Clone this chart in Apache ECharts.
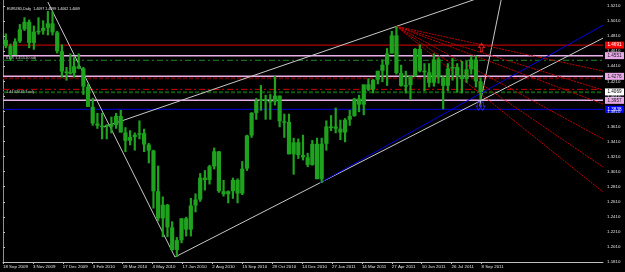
<!DOCTYPE html>
<html>
<head>
<meta charset="utf-8">
<script src="https://cdn.jsdelivr.net/npm/echarts@6/dist/echarts.min.js"></script>
<style>
html, body { margin: 0; padding: 0; background: #000; }
#chart { width: 625px; height: 272px; }
</style>
</head>
<body>
<div id="chart"></div>
<script>
// EURUSD daily, drawn here as weekly candles (week starting on Monday)
var firstMonday = '2009-09-21';
var weekOpen  = [1.4760,1.4680,1.4560,1.4740,1.4900,1.5000,1.4720,1.4870,1.4880,1.4920,1.4980,1.4860,1.4610,1.4340,1.4330,
                 1.4320,1.4410,1.4380,1.4140,1.3870,1.3650,1.3620,1.3620,1.3630,1.3630,1.3750,1.3530,1.3420,1.3470,1.3500,
                 1.3520,1.3370,1.3290,1.2750,1.2390,1.2570,1.2270,1.1970,1.2100,1.2390,1.2240,1.2560,1.2640,1.2930,1.2900,
                 1.3080,1.3280,1.2750,1.2710,1.2750,1.2900,1.2720,1.3050,1.3490,1.3790,1.3950,1.3970,1.3950,1.3940,1.4020,
                 1.3680,1.3670,1.3240,1.3400,1.3230,1.3200,1.3100,1.3380,1.2910,1.3380,1.3610,1.3610,1.3580,1.3530,1.3700,
                 1.3750,1.3980,1.3900,1.4170,1.4100,1.4230,1.4350,1.4430,1.4580,1.4820,1.4320,1.4150,1.4160,1.4280,1.4640,
                 1.4350,1.4330,1.4190,1.4500,1.4260,1.4150,1.4380,1.4400,1.4280,1.4240,1.4370,1.4500,1.4210];
var weekHigh  = [1.4845,1.4710,1.4780,1.4970,1.5060,1.5030,1.4950,1.5060,1.5020,1.5144,1.5140,1.4880,1.4700,1.4400,1.4580,
                 1.4530,1.4580,1.4400,1.4180,1.3990,1.3790,1.3790,1.3640,1.3740,1.3790,1.3830,1.3600,1.3560,1.3530,1.3690,
                 1.3580,1.3390,1.3300,1.3090,1.2680,1.2580,1.2350,1.2140,1.2390,1.2410,1.2660,1.2720,1.2990,1.3030,1.3100,
                 1.3330,1.3280,1.2900,1.2760,1.2930,1.2920,1.3150,1.3500,1.3800,1.3990,1.4160,1.4030,1.4040,1.4280,1.4020,
                 1.3780,1.3780,1.3460,1.3450,1.3500,1.3260,1.3430,1.3460,1.3460,1.3690,1.3760,1.3860,1.3700,1.3720,1.3830,
                 1.3990,1.4030,1.4150,1.4250,1.4240,1.4350,1.4500,1.4650,1.4880,1.4940,1.4430,1.4350,1.4280,1.4650,1.4700,
                 1.4450,1.4450,1.4580,1.4530,1.4280,1.4450,1.4520,1.4450,1.4480,1.4480,1.4550,1.4550,1.4260];
var weekLow   = [1.4650,1.4480,1.4560,1.4720,1.4880,1.4650,1.4630,1.4830,1.4830,1.4820,1.4820,1.4580,1.4260,1.4220,1.4300,
                 1.4260,1.4370,1.4030,1.3870,1.3620,1.3580,1.3440,1.3440,1.3520,1.3580,1.3530,1.3270,1.3360,1.3290,1.3440,
                 1.3270,1.3120,1.2520,1.2350,1.2140,1.2140,1.1960,1.1876,1.2060,1.2150,1.2150,1.2470,1.2610,1.2760,1.2840,
                 1.3040,1.2730,1.2680,1.2590,1.2650,1.2590,1.2700,1.3020,1.3460,1.3700,1.3820,1.3700,1.3700,1.3890,1.3600,
                 1.3460,1.3240,1.2970,1.3180,1.3160,1.3070,1.3090,1.2910,1.2860,1.3290,1.3550,1.3520,1.3430,1.3400,1.3620,
                 1.3740,1.3800,1.3760,1.4080,1.4050,1.4170,1.4200,1.4150,1.4580,1.4300,1.4140,1.4050,1.3970,1.4270,1.4330,
                 1.4080,1.4130,1.4140,1.4180,1.3840,1.4080,1.4220,1.4060,1.4050,1.4190,1.4300,1.4130,1.3970];
var weekClose = [1.4680,1.4560,1.4740,1.4900,1.5000,1.4720,1.4870,1.4880,1.4920,1.4980,1.4860,1.4610,1.4340,1.4330,1.4320,
                 1.4410,1.4380,1.4140,1.3870,1.3650,1.3620,1.3620,1.3630,1.3630,1.3750,1.3530,1.3420,1.3470,1.3500,1.3520,
                 1.3370,1.3290,1.2750,1.2390,1.2570,1.2270,1.1970,1.2100,1.2390,1.2240,1.2560,1.2640,1.2930,1.2900,1.3080,
                 1.3280,1.2750,1.2710,1.2750,1.2900,1.2720,1.3050,1.3490,1.3790,1.3950,1.3970,1.3950,1.3940,1.4020,1.3680,
                 1.3670,1.3240,1.3400,1.3230,1.3200,1.3100,1.3380,1.2910,1.3380,1.3610,1.3610,1.3580,1.3530,1.3700,1.3750,
                 1.3980,1.3900,1.4170,1.4100,1.4230,1.4350,1.4430,1.4580,1.4820,1.4320,1.4150,1.4160,1.4280,1.4640,1.4350,
                 1.4330,1.4190,1.4500,1.4260,1.4150,1.4380,1.4400,1.4280,1.4240,1.4370,1.4500,1.4210,1.4069];

// days with no bar at the broker
var holidays = ['2009-12-25', '2010-01-01'];

// time scale labels
var dateTicks  = ['2009-09-18','2009-11-03','2009-12-17','2010-02-03','2010-03-19','2010-05-04','2010-06-17','2010-08-02','2010-09-15',
                  '2010-10-29','2010-12-14','2011-01-27','2011-03-14','2011-04-27','2011-06-10','2011-07-26','2011-09-08'];
var dateLabels = ['18 Sep 2009','3 Nov 2009','17 Dec 2009','3 Feb 2010','19 Mar 2010','4 May 2010','17 Jun 2010','2 Aug 2010','15 Sep 2010',
                  '29 Oct 2010','14 Dec 2010','27 Jan 2011','14 Mar 2011','27 Apr 2011','10 Jun 2011','26 Jul 2011','8 Sep 2011'];
var priceTicks = [1.1810,1.2010,1.2210,1.2410,1.2610,1.2810,1.3010,1.3210,1.3410,1.3610,1.3810,1.4010,1.4210,1.4410,1.4610,1.4810,1.5010,1.5210];

// horizontal levels
var levelPrice = [1.4691, 1.4551, 1.4489, 1.4276, 1.4250, 1.4103, 1.4064, 1.3957, 1.3838];
var levelKind  = ['red', 'plum', 'greendash', 'plum', 'darkred', 'reddash', 'darkgreen', 'plum', 'blue'];
var levelNote  = ['', '61.8 1.45510 adj', '', '', '', '1.41026413 adj', '', '', ''];

// trend lines: [date, price] -> [date, price], ray = extend to the right
var trendFrom = [['2009-11-25',1.5263], ['2010-06-07',1.1876], ['2010-02-19',1.3603], ['2011-09-06',1.3880], ['2011-01-10',1.2860]];
var trendTo   = [['2010-06-07',1.1876], ['2011-01-10',1.2860], ['2011-05-04',1.4940], ['2011-10-07',1.5290], ['2011-08-01',1.3862]];
var trendRay  = [false, true, true, false, true];
var trendKind = ['white', 'white', 'white', 'white', 'blue'];

// speed fan from the May 2011 top
var fanTop = ['2011-05-04', 1.4940];
var fanEnd = [1.4346, 1.4094, 1.3908, 1.3443, 1.3072, 1.2740];

// arrow marks next to the last bar
var arrowUp   = [['2011-09-08', 1.4660]];
var arrowDown = [['2011-09-05', 1.3880], ['2011-09-09', 1.3880]];

var lastBar = [1.4097, 1.4099, 1.4062, 1.4069];

function tradingIndex(s) {
    var d0 = Date.UTC(2009, 8, 18);
    var t = Date.parse(s + 'T00:00:00Z');
    var n = 0;
    for (var d = d0 + 864e5; d <= t; d += 864e5) {
        var dt = new Date(d);
        var wd = dt.getUTCDay();
        if (wd === 0 || wd === 6) continue;
        if (holidays.indexOf(dt.toISOString().slice(0, 10)) >= 0) continue;
        n++;
    }
    return n;
}

var X_MAX = 642;
var Y_MIN = 1.1810, Y_MAX = 1.5290;
var FONT = 'Liberation Sans';
var GREEN = '#1fa31f';

var candles = [];
var m0 = Date.parse(firstMonday + 'T00:00:00Z');
for (var i = 0; i < weekOpen.length; i++) {
    var mon = new Date(m0 + i * 7 * 864e5).toISOString().slice(0, 10);
    candles.push([tradingIndex(mon) + 2, weekOpen[i], weekClose[i], weekLow[i], weekHigh[i]]);
}

var styles = {
    red:       { color: '#e00000', type: 'solid', width: 1 },
    plum:      { color: '#e8b0e8', type: 'solid', width: 1.5 },
    greendash: { color: '#1e8a1e', type: [6, 3, 2, 3], width: 1 },
    darkred:   { color: '#6a0000', type: [4, 2], width: 2 },
    reddash:   { color: '#d00000', type: [6, 3, 2, 3], width: 1 },
    darkgreen: { color: '#0e5a0e', type: [4, 2], width: 2 },
    blue:      { color: '#0000e0', type: 'solid', width: 1 },
    white:     { color: '#c8c8c8', type: 'solid', width: 1 },
    fan:       { color: '#c00000', type: [2, 1], width: 1 }
};
var boxes = {
    red:  { bg: '#ff0000', fg: '#ffffff' },
    plum: { bg: '#e8a8e8', fg: '#202020' },
    blue: { bg: '#0000ff', fg: '#ffffff' }
};

var series = [];

series.push({
    type: 'custom',
    z: 5,
    data: candles,
    renderItem: function (params, api) {
        var x = api.value(0);
        var o = api.coord([x, api.value(1)]);
        var c = api.coord([x, api.value(2)]);
        var l = api.coord([x, api.value(3)]);
        var h = api.coord([x, api.value(4)]);
        var w = api.size([5, 0])[0] * 0.9;
        var top = Math.min(o[1], c[1]);
        var bh = Math.max(1.5, Math.abs(o[1] - c[1]));
        return {
            type: 'group',
            children: [
                { type: 'line', shape: { x1: h[0], y1: h[1], x2: l[0], y2: l[1] }, style: { stroke: GREEN, lineWidth: 2.2 } },
                { type: 'rect', shape: { x: o[0] - w / 2, y: top, width: w, height: bh }, style: { fill: GREEN } }
            ]
        };
    },
    animation: false
});

function seg(data, st, z) {
    return {
        type: 'line', data: data, symbol: 'none', silent: true, animation: false, z: z,
        lineStyle: { color: st.color, type: st.type, width: st.width }
    };
}

levelPrice.forEach(function (p, i) {
    series.push(seg([[0, p], [X_MAX, p]], styles[levelKind[i]], 3));
});

trendFrom.forEach(function (a, i) {
    var x1 = tradingIndex(a[0]), y1 = a[1];
    var x2 = tradingIndex(trendTo[i][0]), y2 = trendTo[i][1];
    if (trendRay[i]) {
        var k = (y2 - y1) / (x2 - x1);
        y2 = y1 + k * (X_MAX - x1);
        x2 = X_MAX;
    }
    series.push(seg([[x1, y1], [x2, y2]], styles[trendKind[i]], 4));
});

var fx = tradingIndex(fanTop[0]);
fanEnd.forEach(function (p) {
    series.push(seg([[fx, fanTop[1]], [X_MAX, p]], styles.fan, 4));
});

// arrows
var upPath = 'path://M5,0 L10,5 L7,5 L7,10 L3,10 L3,5 L0,5 Z';
var downPath = 'path://M3,0 L7,0 L7,5 L10,5 L5,10 L0,5 L3,5 Z';
series.push({
    type: 'scatter', silent: true, animation: false, z: 7,
    symbol: upPath, symbolSize: [6, 8],
    itemStyle: { color: 'rgba(0,0,0,0)', borderColor: '#ff2020', borderWidth: 1 },
    data: arrowUp.map(function (a) { return [tradingIndex(a[0]), a[1]]; })
});
series.push({
    type: 'scatter', silent: true, animation: false, z: 7,
    symbol: downPath, symbolSize: [5, 8],
    itemStyle: { color: 'rgba(0,0,0,0)', borderColor: '#3030ff', borderWidth: 1 },
    data: arrowDown.map(function (a) { return [tradingIndex(a[0]), a[1]]; })
});

var chart = echarts.init(document.getElementById('chart'), null, { renderer: 'canvas' });
chart.setOption({
    backgroundColor: '#000000',
    animation: false,
    title: {
        text: 'EURUSD,Daily  ' + lastBar.map(function (v) { return v.toFixed(4); }).join(' '),
        left: 2, top: 2,
        textStyle: { color: '#e8e8e8', fontSize: 3.6, fontWeight: 'normal', fontFamily: FONT }
    },
    grid: { left: 1, right: 22, top: 0, bottom: 10 },
    xAxis: {
        type: 'value', min: 0, max: X_MAX,
        splitLine: { show: false },
        axisLine: { show: true, lineStyle: { color: '#c0c0c0' } },
        axisTick: { show: true, length: 2, lineStyle: { color: '#c0c0c0' },
            customValues: dateTicks.map(tradingIndex) },
        axisLabel: {
            color: '#e0e0e0', fontSize: 4.4, fontFamily: FONT, align: 'left', margin: 3,
            customValues: dateTicks.map(tradingIndex),
            formatter: function (v) {
                var j = dateTicks.map(tradingIndex).indexOf(v);
                return j >= 0 ? dateLabels[j] : '';
            }
        }
    },
    yAxis: [{
        type: 'value', position: 'right', min: Y_MIN, max: Y_MAX,
        splitLine: { show: false },
        axisLine: { show: true, lineStyle: { color: '#c0c0c0' } },
        axisTick: { show: true, length: 2, lineStyle: { color: '#c0c0c0' }, customValues: priceTicks },
        axisLabel: {
            color: '#e0e0e0', fontSize: 4.4, fontFamily: FONT, margin: 4,
            customValues: priceTicks,
            formatter: function (v) { return v.toFixed(4); }
        }
    }, {
        type: 'value', position: 'left', min: Y_MIN, max: Y_MAX,
        splitLine: { show: false }, axisTick: { show: false }, axisLabel: { show: false },
        axisLine: { show: true, lineStyle: { color: '#909090' } }
    }],
    series: series
});

// price boxes on the scale and small notes at the left end of some levels
var extras = [];
function priceBox(p, bg, fg) {
    var pt = chart.convertToPixel({ gridIndex: 0 }, [X_MAX, p]);
    extras.push({
        type: 'group', z: 20, silent: true,
        children: [
            { type: 'rect', shape: { x: pt[0] + 2, y: pt[1] - 3.5, width: 19, height: 7 }, style: { fill: bg } },
            { type: 'text', x: pt[0] + 11.5, y: pt[1], style: { text: p.toFixed(4), fill: fg, font: '4.6px ' + FONT, align: 'center', verticalAlign: 'middle' } }
        ]
    });
}
levelPrice.forEach(function (p, i) {
    var b = boxes[levelKind[i]];
    if (b) priceBox(p, b.bg, b.fg);
    if (levelNote[i]) {
        var pt = chart.convertToPixel({ gridIndex: 0 }, [0, p]);
        extras.push({
            type: 'text', x: pt[0] + 3, y: pt[1] + 0.5, z: 10, silent: true,
            style: { text: levelNote[i], fill: '#c8c8c8', font: '4px ' + FONT }
        });
    }
});
priceBox(lastBar[3], '#ffffff', '#000000');
chart.setOption({ graphic: extras });
</script>
</body>
</html>
